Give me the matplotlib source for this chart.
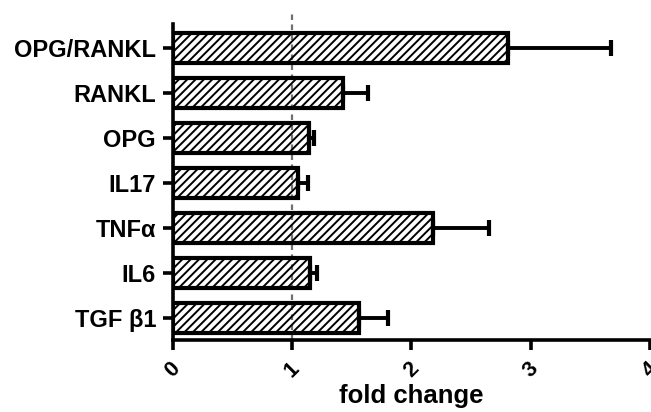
import matplotlib
matplotlib.use("Agg")
import matplotlib.pyplot as plt
import numpy as np

categories = ["OPG/RANKL", "RANKL", "OPG", "IL17", "TNFα", "IL6", "TGF β1"]
fold_change = [2.81, 1.43, 1.14, 1.05, 2.18, 1.15, 1.56]
sem = [0.86, 0.21, 0.04, 0.08, 0.47, 0.06, 0.24]
x_ticks = [0, 1, 2, 3, 4]
x_tick_labels = ["0", "1", "2", "3", "4"]

plt.rcParams['font.family'] = ['Liberation Sans', 'DejaVu Sans']
plt.rcParams['hatch.color'] = 'black'
plt.rcParams['hatch.linewidth'] = 1.4

fig = plt.figure(figsize=(6.51, 4.12), dpi=100)
ax = fig.add_axes([0.2653, 0.1748, 0.7332, 0.767])

n = len(categories)
ypos = np.arange(n)[::-1]

ax.barh(ypos, fold_change, height=0.67, facecolor='none', edgecolor='black',
        linewidth=3.0, hatch='////', zorder=3)
ax.errorbar(fold_change, ypos, xerr=[[0] * n, sem], fmt='none', ecolor='black',
            elinewidth=2.8, capsize=6, capthick=3.0, zorder=4)

ax.set_xlim(0, 4)
ax.set_ylim(-0.49, 6.53)
ax.axvline(1, ymin=0, ymax=1.035, color='#707070', linestyle=(0, (2.5, 2.0)),
           linewidth=1.6, clip_on=False, zorder=1.5)

ax.set_yticks(ypos)
ax.set_yticklabels(categories, fontsize=17, fontweight='bold')
ax.set_xticks(x_ticks)
ax.set_xticklabels(x_tick_labels, fontsize=15.5, fontweight='bold', rotation=45,
                   ha='center')
ax.set_xlabel("fold change", fontsize=18.5, fontweight='bold', labelpad=2)

for s in ['top', 'right']:
    ax.spines[s].set_visible(False)
for s in ['left', 'bottom']:
    ax.spines[s].set_linewidth(2.6)
ax.tick_params(axis='both', direction='out', length=7, width=2.6)
ax.tick_params(axis='y', pad=5)
ax.tick_params(axis='x', pad=6)

fig.savefig("out.png", dpi=100, facecolor='white')
